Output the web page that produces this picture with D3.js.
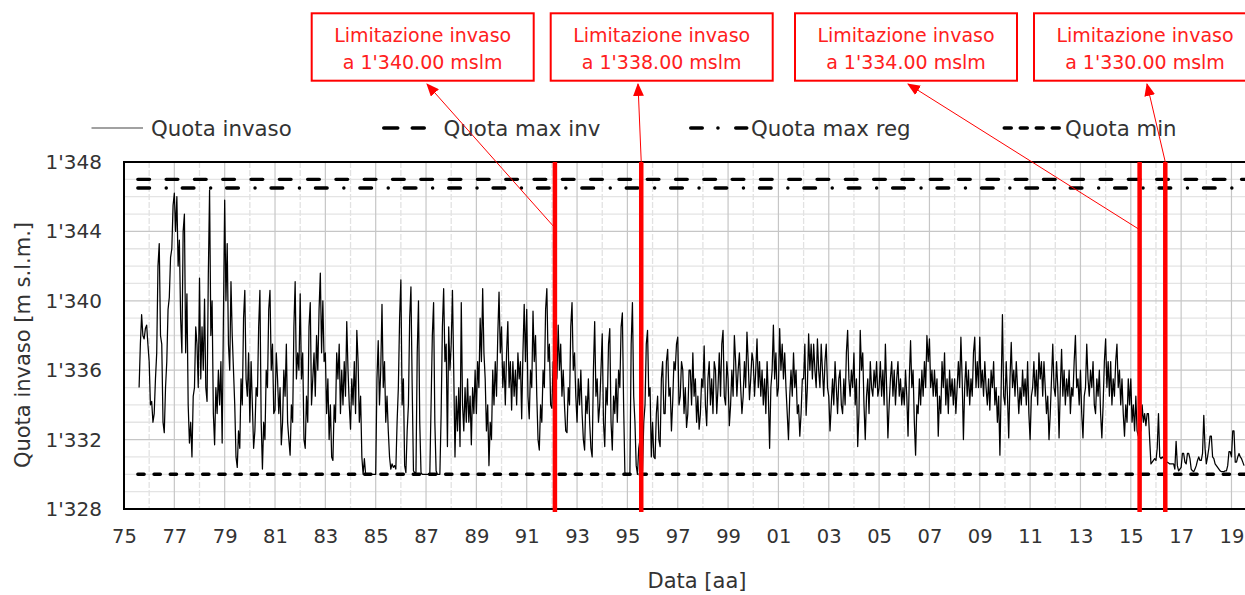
<!DOCTYPE html>
<html><head><meta charset="utf-8">
<script src="https://cdn.jsdelivr.net/npm/d3@7"></script>
<style>
html,body{margin:0;padding:0;background:#fff;}
svg{display:block;}
text{font-family:"DejaVu Sans",sans-serif;}
</style></head><body>
<svg id="chart" width="1245" height="595"></svg>
<script>
// ---------------- DATA ----------------
// Reservoir level (m s.l.m.), sampled every 0.05 year starting 1975.6
const startYear = 1975.6;
const stepYear = 0.05;
const levels = [
  1335.0,1337.5,1339.2,1338.0,1337.8,1338.4,1338.6,1337.5,
  1336.5,1334.0,1334.2,1333.0,1333.5,1335.5,1337.0,1342.0,1343.3,1338.0,1337.5,1333.0,1332.4,1335.0,1336.5,1339.5,1340.2,1342.5,1343.0,1345.5, // 1976
  1346.2,1344.0,1346.0,1342.0,1343.5,1339.0,1337.0,1344.0,1345.0,1337.0,1340.4,1334.0,1331.8,1333.0,1331.0,1334.5,1335.0,1338.5,1337.5,1335.0, // 1977
  1341.3,1335.5,1338.5,1336.0,1340.1,1335.0,1334.2,1341.5,1346.4,1338.0,1340.0,1333.5,1331.7,1335.0,1333.5,1336.0,1334.0,1336.5,1331.8,1339.0, // 1978
  1345.8,1340.0,1343.3,1337.5,1336.0,1341.1,1338.0,1336.0,1334.0,1331.0,1330.4,1332.5,1331.5,1335.5,1334.0,1339.0,1340.6,1335.5,1334.5,1337.0, // 1979
  1333.0,1336.5,1334.0,1331.5,1332.5,1335.0,1334.5,1338.5,1340.6,1333.0,1330.3,1333.0,1332.0,1336.0,1335.0,1339.5,1340.6,1336.0,1337.5,1333.5, // 1980
  1333.7,1337.0,1335.5,1333.5,1335.0,1331.7,1333.0,1336.0,1334.5,1337.5,1333.0,1332.0,1331.1,1334.0,1333.0,1338.5,1341.1,1335.5,1337.0,1336.0, // 1981
  1340.4,1335.5,1337.0,1332.0,1331.5,1334.5,1333.0,1338.5,1339.9,1334.0,1335.5,1337.0,1334.5,1338.0,1336.0,1339.5,1341.6,1337.0,1340.0,1336.5, // 1982
  1337.0,1333.5,1335.5,1332.0,1334.0,1331.0,1330.8,1334.0,1333.0,1337.0,1335.5,1337.5,1333.5,1336.0,1334.0,1336.5,1334.5,1338.8,1336.0,1334.0, // 1983
  1332.6,1335.5,1334.0,1336.5,1333.5,1338.3,1336.5,1333.0,1334.5,1331.0,1330.0,1330.9,1330.0,1330.0,1330.0,1330.0,1330.0,1330.0,1330.0,1330.0, // 1984
  1330.0,1335.5,1337.7,1334.0,1336.0,1339.8,1335.0,1336.5,1333.0,1334.5,1332.5,1331.0,1330.3,1330.6,1330.4,1330.5,1330.3,1333.0,1335.0,1339.0, // 1985
  1341.2,1334.0,1335.5,1330.5,1330.1,1332.5,1334.0,1339.0,1340.8,1335.0,1330.2,1330.1,1330.1,1337.0,1340.0,1333.0,1330.1,1330.0,1330.0,1330.0, // 1986
  1330.0,1330.0,1330.0,1330.0,1334.0,1338.0,1339.9,1333.0,1330.2,1330.0,1330.0,1330.0,1333.5,1338.5,1340.7,1336.5,1337.5,1331.6,1338.5,1336.0, // 1987
  1337.5,1340.6,1336.0,1331.0,1334.5,1332.5,1335.0,1331.6,1339.9,1334.0,1332.5,1335.0,1333.0,1335.5,1333.0,1334.5,1331.7,1335.0,1333.5,1336.0, // 1988
  1333.5,1336.5,1335.0,1339.0,1336.5,1340.7,1337.0,1335.5,1332.5,1334.0,1330.5,1333.0,1332.0,1336.0,1334.0,1336.5,1334.5,1338.0,1340.5,1337.0, // 1989
  1338.5,1335.0,1336.5,1334.0,1337.0,1338.8,1335.0,1336.5,1333.7,1336.5,1334.5,1336.0,1334.0,1337.0,1335.5,1336.5,1333.2,1337.0,1339.8,1336.5, // 1990
  1339.5,1334.5,1333.2,1336.0,1335.0,1339.4,1336.5,1338.0,1334.5,1332.0,1331.4,1334.0,1333.0,1336.0,1335.0,1339.5,1340.7,1336.5,1337.5,1334.0, // 1991
  1333.8,1336.5,1335.0,1337.0,1335.5,1338.6,1336.0,1337.5,1334.5,1336.0,1334.0,1332.5,1332.4,1335.0,1334.0,1338.5,1339.9,1336.0,1337.0,1334.5, // 1992
  1333.0,1335.5,1334.0,1336.0,1333.5,1332.0,1331.4,1334.5,1333.5,1335.5,1333.0,1331.5,1331.0,1336.0,1338.8,1334.5,1335.5,1333.0,1334.0,1336.0, // 1993
  1338.1,1333.0,1331.6,1335.0,1334.0,1337.5,1338.4,1333.0,1331.4,1334.5,1333.5,1335.5,1333.0,1336.0,1335.0,1338.5,1339.3,1334.0,1330.1,1330.0, // 1994
  1330.0,1330.0,1330.1,1337.5,1339.9,1334.5,1333.0,1330.5,1330.0,1331.5,1332.0,1330.5,1330.2,1333.0,1334.0,1337.5,1338.3,1334.5,1335.0,1331.0, // 1995
  1333.0,1331.0,1330.9,1333.5,1334.5,1332.0,1331.6,1335.5,1336.5,1333.5,1333.5,1336.5,1337.2,1334.5,1335.0,1332.5,1334.2,1336.5,1336.0,1337.5, // 1996
  1337.9,1334.0,1334.5,1336.5,1336.0,1333.5,1335.0,1332.7,1333.5,1336.0,1336.0,1334.0,1337.0,1334.5,1335.5,1333.0,1334.5,1332.6,1333.5,1335.5, // 1997
  1335.0,1337.4,1334.0,1332.8,1335.5,1336.5,1334.0,1335.5,1333.5,1336.5,1336.0,1333.5,1335.0,1337.0,1334.5,1337.5,1338.3,1334.5,1334.0,1336.5, // 1998
  1335.5,1332.8,1334.0,1336.0,1334.5,1338.0,1336.5,1334.5,1336.0,1337.0,1335.0,1333.5,1334.5,1336.5,1335.0,1338.2,1336.5,1334.3,1335.5,1337.0, // 1999
  1336.5,1334.5,1336.0,1337.8,1335.0,1336.5,1334.5,1336.0,1334.0,1335.5,1333.5,1336.5,1334.5,1331.5,1335.0,1336.0,1338.6,1335.5,1337.0,1334.5, // 2000
  1335.0,1338.4,1336.0,1337.5,1335.5,1337.0,1335.0,1333.5,1332.0,1334.5,1336.0,1334.5,1337.0,1335.0,1336.0,1333.5,1334.0,1332.2,1333.5,1335.5, // 2001
  1335.5,1337.5,1333.4,1335.0,1338.1,1336.0,1337.5,1335.5,1337.5,1336.0,1335.0,1337.8,1336.0,1335.0,1337.5,1336.0,1334.5,1336.5,1337.5,1335.0, // 2002
  1334.5,1332.5,1334.0,1335.5,1334.0,1336.5,1335.0,1333.5,1335.5,1336.0,1334.0,1333.5,1335.5,1334.0,1337.0,1338.3,1335.5,1334.5,1336.0,1335.0, // 2003
  1337.0,1334.0,1335.5,1331.6,1333.5,1338.3,1336.0,1337.0,1334.0,1332.0,1334.5,1335.5,1333.5,1336.5,1335.0,1334.5,1336.0,1335.0,1336.5,1334.5, // 2004
  1335.0,1336.5,1334.5,1336.0,1334.0,1337.5,1335.0,1332.1,1334.0,1335.5,1336.5,1334.5,1336.0,1334.0,1335.5,1336.5,1334.5,1335.5,1334.0,1335.0, // 2005
  1334.0,1336.0,1334.5,1332.2,1335.5,1337.7,1335.0,1336.0,1333.0,1331.1,1334.0,1333.5,1335.5,1334.0,1336.0,1334.5,1336.5,1335.0,1338.0,1336.5, // 2006
  1337.8,1335.0,1336.0,1334.5,1336.0,1334.5,1335.5,1332.2,1334.5,1333.5,1336.5,1335.0,1337.0,1334.0,1335.5,1333.5,1336.0,1334.5,1335.5,1334.0, // 2007
  1335.5,1333.5,1335.0,1336.5,1335.0,1337.9,1335.5,1332.0,1335.0,1336.5,1334.5,1336.0,1334.0,1335.5,1334.5,1337.0,1337.9,1335.0,1336.5,1335.0, // 2008
  1337.9,1335.0,1336.0,1334.5,1336.5,1335.0,1334.0,1335.5,1333.7,1336.0,1335.0,1336.5,1334.0,1335.0,1333.0,1334.5,1331.1,1335.0,1339.2,1334.5, // 2009
  1334.0,1336.5,1334.5,1332.1,1335.5,1337.6,1335.0,1336.0,1334.5,1336.5,1335.0,1333.5,1335.0,1334.0,1336.0,1334.5,1335.5,1334.0,1336.5,1333.5, // 2010
  1332.0,1334.5,1335.0,1336.5,1334.5,1336.0,1334.0,1337.0,1335.5,1336.5,1334.5,1336.5,1335.0,1333.5,1334.5,1332.0,1333.5,1335.5,1337.5,1335.0, // 2011
  1334.5,1336.5,1335.0,1332.1,1335.0,1337.2,1334.5,1336.0,1334.0,1335.5,1334.5,1336.0,1333.5,1335.0,1334.5,1336.5,1338.0,1335.0,1335.5,1334.0, // 2012
  1336.0,1333.5,1332.1,1334.5,1335.0,1337.5,1335.5,1334.5,1336.0,1335.0,1336.5,1334.0,1333.5,1335.5,1334.5,1336.0,1333.5,1332.1,1334.0,1336.5, // 2013
  1337.8,1335.0,1336.5,1334.5,1336.5,1334.0,1335.5,1334.5,1336.5,1337.5,1335.0,1336.0,1334.0,1335.5,1333.5,1332.2,1334.0,1333.0,1335.5,1334.0, // 2014
  1335.5,1333.0,1334.0,1332.5,1334.5,1332.5,1332.2,1333.0,1332.5,1334.0,1333.0,1333.5,1332.8,1333.5,1333.5,1332.0,1330.6,1330.7,1330.8,1330.9, // 2015
  1330.8,1331.5,1333.5,1331.0,1330.9,1331.0,1330.9,1330.8,1330.7,1330.7,1330.65,1330.6,1330.6,1330.6,1330.6,1330.3,1331.9,1330.5,1330.2,1330.3, // 2016
  1330.4,1331.2,1331.2,1330.7,1330.6,1331.2,1331.2,1330.9,1330.3,1330.2,1330.15,1330.3,1330.5,1330.8,1331.0,1330.8,1330.8,1331.2,1333.4,1331.5, // 2017
  1330.6,1331.0,1331.5,1332.2,1332.2,1331.0,1330.9,1330.6,1330.5,1330.4,1330.3,1330.2,1330.15,1330.15,1330.15,1330.2,1330.2,1330.5,1331.3,1331.3, // 2018
  1331.0,1332.5,1332.5,1330.7,1330.7,1331.0,1331.2,1331.0,1330.9,1330.7,1330.5                                                                   // 2019
];
// Reference levels
const refYears = [1975.55, 2020.5];
const maxInvLevel = 1347.0;
const maxRegLevel = 1346.5;
const minLevel = 1330.0;
// Axis ticks
const yTickValues = [1328, 1332, 1336, 1340, 1344, 1348];
const xTickYears = [1975,1977,1979,1981,1983,1985,1987,1989,1991,1993,1995,1997,1999,2001,2003,2005,2007,2009,2011,2013,2015,2017,2019];
const xTickLabels = ["75","77","79","81","83","85","87","89","91","93","95","97","99","01","03","05","07","09","11","13","15","17","19"];
// Storage limitation dates and levels
const limitYears = [1992.12, 1995.55, 2015.35, 2016.37];
const limitLabels = ["a 1'340.00 mslm", "a 1'338.00 mslm", "a 1'334.00 mslm", "a 1'330.00 mslm"];
const legendNames = ["Quota invaso", "Quota max inv", "Quota max reg", "Quota min"];

// ---------------- LAYOUT ----------------
const svg = d3.select("#chart");
const L = 124, T = 162, B = 509;
const x = d3.scaleLinear().domain([1975, 2020.5]).range([L, L + 45.5 * 25.17]);
const y = d3.scaleLinear().domain([1328, 1348]).range([B, T]);
const R = x(2020.5);

const fmt = d3.formatLocale({decimal: ".", thousands: "'", grouping: [3], currency: ["", ""]}).format(",d");

svg.append("defs").append("clipPath").attr("id", "plotclip")
  .append("rect").attr("x", L).attr("y", T).attr("width", R - L).attr("height", B - T);

// gridlines
const grid = svg.append("g");
const minorY = d3.range(1329, 1348, 1).filter(v => !yTickValues.includes(v));
grid.selectAll(".gym").data(minorY).join("line")
  .attr("x1", L).attr("x2", R).attr("y1", d => y(d)).attr("y2", d => y(d))
  .attr("stroke", "#e4e4e4").attr("stroke-width", 1.3);
const minorX = xTickYears.map(v => v + 1);
grid.selectAll(".gxm").data(minorX).join("line")
  .attr("x1", d => x(d)).attr("x2", d => x(d)).attr("y1", T).attr("y2", B)
  .attr("stroke", "#e2e2e2").attr("stroke-width", 1.3).attr("stroke-dasharray", "6,2");
grid.selectAll(".gyM").data(yTickValues).join("line")
  .attr("x1", L).attr("x2", R).attr("y1", d => y(d)).attr("y2", d => y(d))
  .attr("stroke", "#c6c6c6").attr("stroke-width", 1.2);
grid.selectAll(".gxM").data(xTickYears).join("line")
  .attr("x1", d => x(d)).attr("x2", d => x(d)).attr("y1", T).attr("y2", B)
  .attr("stroke", "#c6c6c6").attr("stroke-width", 1.2);

// series
const plot = svg.append("g").attr("clip-path", "url(#plotclip)");
const lineGen = d3.line().x(d => x(d[0])).y(d => y(d[1]));
const series = levels.map((v, i) => [startYear + i * stepYear, v]);

const refStyles = [
  {level: maxInvLevel, dash: "11.7,16.6"},
  {level: maxRegLevel, dash: "11.7,16.65,0.1,15.95"},
  {level: minLevel, dash: "6.3,9.9"}
];
refStyles.forEach(s => {
  plot.append("path").datum(refYears.map(t => [t, s.level]))
    .attr("d", lineGen).attr("fill", "none").attr("stroke", "#000")
    .attr("stroke-width", 3.4).attr("stroke-linecap", "round")
    .attr("stroke-dasharray", s.dash);
});

plot.append("path").datum(series).attr("d", lineGen)
  .attr("fill", "none").attr("stroke", "#000").attr("stroke-width", 1.25)
  .attr("stroke-linejoin", "round");

// plot border
svg.append("rect").attr("x", L).attr("y", T).attr("width", R - L).attr("height", B - T)
  .attr("fill", "none").attr("stroke", "#000").attr("stroke-width", 2);

// red limit lines
svg.selectAll(".lim").data(limitYears).join("line")
  .attr("x1", d => x(d)).attr("x2", d => x(d)).attr("y1", T).attr("y2", B + 3)
  .attr("stroke", "#ff0000").attr("stroke-width", 4.5);

// axes
const yAxis = svg.append("g").attr("transform", `translate(${L},0)`)
  .call(d3.axisLeft(y).tickValues(yTickValues).tickFormat(fmt).tickSize(0).tickPadding(22));
yAxis.select(".domain").remove();
yAxis.selectAll("text").attr("font-size", 20).attr("fill", "#333")
  .attr("font-family", "DejaVu Sans, sans-serif");

const xAxis = svg.append("g").attr("transform", `translate(0,${B})`)
  .call(d3.axisBottom(x).tickValues(xTickYears).tickFormat((d, i) => xTickLabels[i]).tickSize(0).tickPadding(20));
xAxis.select(".domain").remove();
xAxis.selectAll("text").attr("font-size", 19.5).attr("fill", "#333")
  .attr("font-family", "DejaVu Sans, sans-serif");

svg.append("text").attr("x", 697).attr("y", 588).attr("text-anchor", "middle")
  .attr("font-size", 21).attr("fill", "#333").text("Data [aa]");
svg.append("text").attr("transform", "translate(30,345) rotate(-90)").attr("text-anchor", "middle")
  .attr("font-size", 21).attr("fill", "#333").text("Quota invaso [m s.l.m.]");

// legend
const lg = svg.append("g");
const ly = 128;
lg.append("line").attr("x1", 91.5).attr("x2", 143).attr("y1", ly).attr("y2", ly)
  .attr("stroke", "#444").attr("stroke-width", 1.1);
lg.append("line").attr("x1", 383.75).attr("x2", 424.25).attr("y1", ly).attr("y2", ly)
  .attr("stroke", "#000").attr("stroke-width", 3.5).attr("stroke-linecap", "round").attr("stroke-dasharray", "14,14.5");
lg.append("line").attr("x1", 690.75).attr("x2", 746.75).attr("y1", ly).attr("y2", ly)
  .attr("stroke", "#000").attr("stroke-width", 3.5).attr("stroke-linecap", "round")
  .attr("stroke-dasharray", "11.5,15.65,0.1,17.75,11,10");
lg.append("line").attr("x1", 1004.25).attr("x2", 1061.25).attr("y1", ly).attr("y2", ly)
  .attr("stroke", "#000").attr("stroke-width", 3.5).attr("stroke-linecap", "round").attr("stroke-dasharray", "7,9");
const legendX = [151, 443.6, 751, 1065];
lg.selectAll(".lt").data(legendNames).join("text")
  .attr("x", (d, i) => legendX[i]).attr("y", 136).attr("font-size", 21.3).attr("fill", "#333")
  .text(d => d);

// annotations
const boxX = [311.7, 550.7, 795, 1034];
const boxW = 222, boxY = 13.3, boxH = 67.4;
const ann = svg.append("g");
boxX.forEach((bx, i) => {
  ann.append("rect").attr("x", bx).attr("y", boxY).attr("width", boxW).attr("height", boxH)
    .attr("fill", "#fff").attr("stroke", "#ff0000").attr("stroke-width", 2);
  ann.append("text").attr("x", bx + boxW / 2).attr("y", 42).attr("text-anchor", "middle")
    .attr("font-size", 19).attr("fill", "#ff2020").text("Limitazione invaso");
  ann.append("text").attr("x", bx + boxW / 2).attr("y", 68.5).attr("text-anchor", "middle")
    .attr("font-size", 19).attr("fill", "#ff2020").text(limitLabels[i]);
});
svg.select("defs").append("marker").attr("id", "ah").attr("markerUnits", "userSpaceOnUse")
  .attr("viewBox", "0 0 12 10").attr("refX", 11).attr("refY", 5)
  .attr("markerWidth", 13).attr("markerHeight", 11).attr("orient", "auto")
  .append("path").attr("d", "M0,0 L12,5 L0,10 Z").attr("fill", "#ff0000");
const arrowFrom = [[limitYears[0], 1344.2], [limitYears[1], 1348], [limitYears[2], 1344.1], [limitYears[3], 1348]];
const arrowTo = [[427, 84], [638, 84], [908, 84], [1147, 84]];
arrowFrom.forEach((f, i) => {
  ann.append("line").attr("x1", x(f[0])).attr("y1", y(f[1]))
    .attr("x2", arrowTo[i][0]).attr("y2", arrowTo[i][1])
    .attr("stroke", "#ff0000").attr("stroke-width", 1).attr("marker-end", "url(#ah)");
});
</script>
</body></html>
